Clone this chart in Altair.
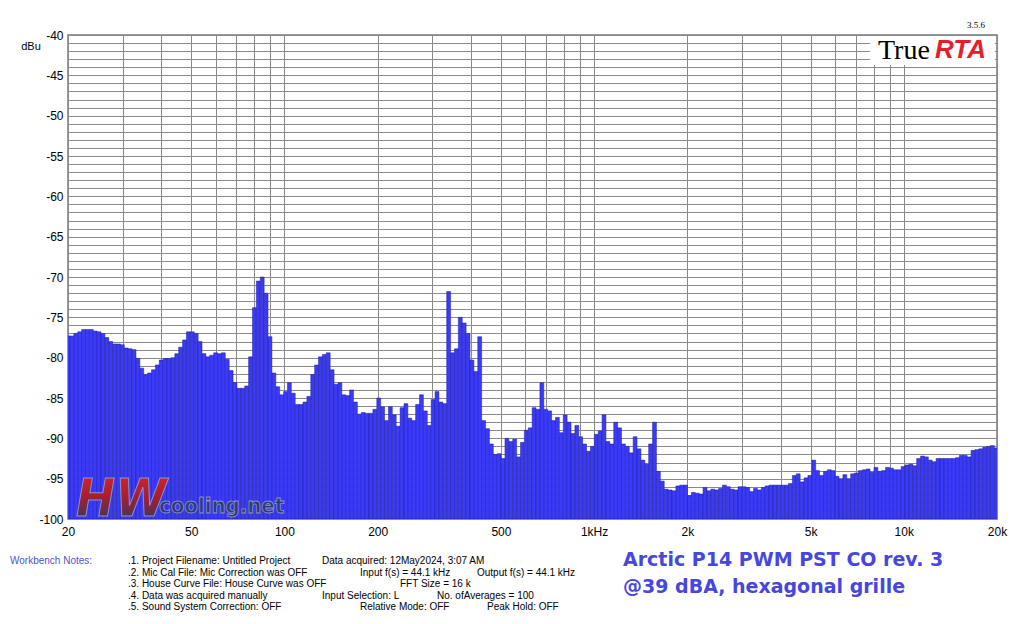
import pandas as pd
import altair as alt

# 1/24-octave RTA bands starting at 20 Hz
start_freq = 20.0
bands_per_octave = 24

# levels in dBu, band by band (low -> high)
levels_20_to_60 = [-77.3, -77.3, -77.0, -76.8, -76.5, -76.5, -76.5, -76.7, -76.8, -77.0,
                   -77.5, -78.0, -78.3, -78.3, -78.4, -78.8, -78.9, -79.0, -80.1, -81.3,
                   -82.1, -81.9, -81.5, -80.9, -80.3, -80.1, -80.1, -80.0, -79.5, -78.7,
                   -77.8, -76.8, -76.8, -77.0, -78.0, -79.5, -79.9, -79.7, -79.4, -79.5]
levels_60_to_200 = [-79.4, -80.2, -81.6, -83.1, -83.8, -83.8, -83.5, -79.9, -73.8, -70.5,
                    -70.0, -72.0, -77.4, -81.9, -83.6, -84.6, -84.2, -83.1, -84.4, -85.8,
                    -85.8, -85.5, -84.8, -82.1, -80.9, -79.9, -79.6, -79.4, -81.5, -83.3,
                    -83.1, -84.6, -84.7, -84.0, -85.5, -87.0, -86.8, -86.9, -86.9, -86.4]
levels_200_to_600 = [-85.0, -86.1, -87.8, -86.1, -87.1, -88.5, -86.2, -85.7, -87.5, -87.8,
                     -85.8, -84.6, -86.6, -88.4, -85.2, -84.2, -85.5, -85.7, -71.8, -79.4,
                     -78.9, -75.0, -75.7, -77.0, -80.3, -81.7, -77.4, -87.8, -88.8, -90.7,
                     -92.0, -91.9, -92.5, -90.0, -90.4, -90.1, -92.3, -90.5, -89.0, -88.7]
levels_600_to_2k = [-86.2, -86.4, -83.1, -86.4, -86.6, -87.8, -87.4, -89.3, -87.1, -88.0,
                    -89.4, -88.4, -89.8, -90.7, -91.6, -91.0, -89.5, -89.1, -87.1, -90.4,
                    -90.7, -88.0, -88.7, -90.7, -91.0, -91.8, -89.8, -91.3, -92.7, -93.2,
                    -90.7, -88.0, -94.1, -95.3, -96.3, -96.4, -96.5, -95.9, -95.8, -95.8]
levels_2k_to_6k = [-97.1, -96.7, -96.8, -96.9, -96.1, -96.5, -96.3, -96.4, -96.2, -95.8,
                   -96.0, -96.3, -96.4, -96.0, -96.0, -96.1, -96.6, -96.2, -96.4, -96.1,
                   -95.9, -95.8, -95.8, -95.8, -95.8, -95.8, -95.6, -94.6, -94.4, -95.4,
                   -94.9, -94.6, -92.7, -94.0, -94.6, -94.1, -93.9, -94.0, -94.7, -95.0]
levels_6k_to_20k = [-94.5, -95.0, -94.4, -94.3, -94.0, -93.9, -93.8, -94.2, -93.6, -94.1,
                    -94.0, -93.6, -93.7, -93.9, -93.9, -93.5, -93.3, -93.2, -93.4, -92.5,
                    -92.2, -92.3, -92.7, -92.9, -92.5, -92.5, -92.5, -92.5, -92.5, -92.4,
                    -92.1, -92.1, -92.3, -91.5, -91.4, -91.3, -91.1, -91.0, -90.9, -91.2]

levels = (levels_20_to_60 + levels_60_to_200 + levels_200_to_600
          + levels_600_to_2k + levels_2k_to_6k + levels_6k_to_20k)

x_tick_values = [20, 50, 100, 200, 500, 1000, 2000, 5000, 10000, 20000]
x_tick_labels = ["20", "50", "100", "200", "500", "1kHz", "2k", "5k", "10k", "20k"]
x_grid = [20, 30, 40, 50, 60, 70, 80, 90,
          100, 200, 300, 400, 500, 600, 700, 800, 900,
          1000, 2000, 3000, 4000, 5000, 6000, 7000, 8000, 9000,
          10000, 20000]
y_grid = list(range(-100, -39))

notes_left = [".1. Project Filename: Untitled Project",
              ".2. Mic Cal File: Mic Correction was OFF",
              ".3. House Curve File: House Curve was OFF",
              ".4. Data was acquired manually",
              ".5. Sound System Correction: OFF"]
title_lines = ["Arctic P14 PWM PST CO rev. 3", "@39 dBA, hexagonal grille"]

# band edges
centers = [start_freq * 2 ** (k / bands_per_octave) for k in range(len(levels))]
half = 2 ** (1 / (2 * bands_per_octave))
bars_df = pd.DataFrame({"lo": [c / half for c in centers],
                        "hi": [c * half for c in centers],
                        "level": levels})

W, H = 929, 484
FONT = "Liberation Sans"

label_expr = " : ".join("datum.value == %d ? '%s'" % (v, l)
                        for v, l in zip(x_tick_values, x_tick_labels)) + " : ''"

bars = alt.Chart(bars_df).mark_rect(
    clip=True, fill="#3a3af7", stroke="#1e1ea0", strokeWidth=0.5
).encode(
    alt.X("lo:Q", scale=alt.Scale(type="log", domain=[20, 20000], nice=False),
          axis=alt.Axis(values=x_grid, labelExpr=label_expr, title=None, ticks=False,
                        domain=False, labelFlush=False, labelOverlap=False,
                        labelPadding=7, grid=True)),
    alt.X2("hi:Q"),
    alt.Y("level:Q", scale=alt.Scale(domain=[-100, -40], nice=False),
          axis=alt.Axis(values=y_grid,
                        labelExpr="datum.value % 5 == 0 ? '' + datum.value : ''",
                        title=None, ticks=False, domain=False, labelOverlap=False,
                        labelPadding=5, grid=True)),
    y2=alt.datum(-100),
)

one = pd.DataFrame({"a": [0]})


def txt(s, px, py, size=10, color="black", font=FONT, weight="normal",
        style="normal", align="left"):
    return alt.Chart(one).mark_text(
        align=align, baseline="middle", fontSize=size, font=font,
        fontWeight=weight, fontStyle=style, color=color
    ).encode(x=alt.value(px), y=alt.value(py), text=alt.value(s))


# white box behind the TrueRTA logo
logo_box = alt.Chart(one).mark_rect(color="white").encode(
    x=alt.value(802), x2=alt.value(927), y=alt.value(1), y2=alt.value(30))

layers = [bars, logo_box,
          txt("True", 810, 16, size=28, font="Liberation Serif"),
          txt("RTA", 867, 15, size=26, color="#e3202a", weight="bold", style="italic"),
          txt("3.5.6", 917, -10, size=9, font="Liberation Serif", align="right"),
          txt("dBu", -37, 12, size=11, align="center")]

# HW cooling logo
hw_fill = alt.Gradient(gradient="linear", x1=0, x2=0, y1=0, y2=1,
                       stops=[alt.GradientStop(color="#e8202a", offset=0),
                              alt.GradientStop(color="#a02030", offset=0.5),
                              alt.GradientStop(color="#1c3c70", offset=1)])
layers.append(alt.Chart(one).mark_text(
    align="left", baseline="alphabetic", fontSize=52, font="DejaVu Sans Condensed",
    fontWeight="bold", fontStyle="italic", fill=hw_fill, stroke="#8a94c8",
    strokeWidth=1
).encode(x=alt.value(8), y=alt.value(481), text=alt.value("HW")))
layers.append(alt.Chart(one).mark_text(
    align="left", baseline="alphabetic", fontSize=22, font="DejaVu Sans Condensed",
    fontWeight="bold", fill="#2b3a78", stroke="#8a94c8", strokeWidth=0.8
).encode(x=alt.value(91), y=alt.value(478), text=alt.value("cooling.net")))

# workbench notes
layers.append(txt("Workbench Notes:", -58, 526, color="#5252c8"))
for i, s in enumerate(notes_left):
    layers.append(txt(s, 60, 526 + i * 11.5))
layers += [txt("Data acquired: 12May2024, 3:07 AM", 254, 526),
           txt("Input f(s) = 44.1 kHz", 292, 537.5),
           txt("Output f(s) = 44.1 kHz", 409, 537.5),
           txt("FFT Size = 16 k", 332, 549),
           txt("Input Selection: L", 254, 560.5),
           txt("No. ofAverages = 100", 369, 560.5),
           txt("Relative Mode:  OFF", 292, 572),
           txt("Peak Hold: OFF", 419, 572)]

for i, s in enumerate(title_lines):
    layers.append(txt(s, 555, 525 + i * 27, size=19, font="DejaVu Sans",
                      weight="bold", color="#4646e0"))

chart = alt.layer(*layers).properties(
    width=W, height=H,
    padding={"left": 60, "top": 27, "right": 17, "bottom": 95},
    autosize=alt.AutoSizeParams(type="none"),
    background="white",
).configure_view(
    stroke="#7a7a7a", strokeWidth=1.5
).configure_axis(
    gridColor="#8a8a8a", gridWidth=1, gridOpacity=1,
    labelFont=FONT, labelFontSize=12, labelColor="black"
)

chart.save("out.html", embed_options={"renderer": "svg", "actions": False})
